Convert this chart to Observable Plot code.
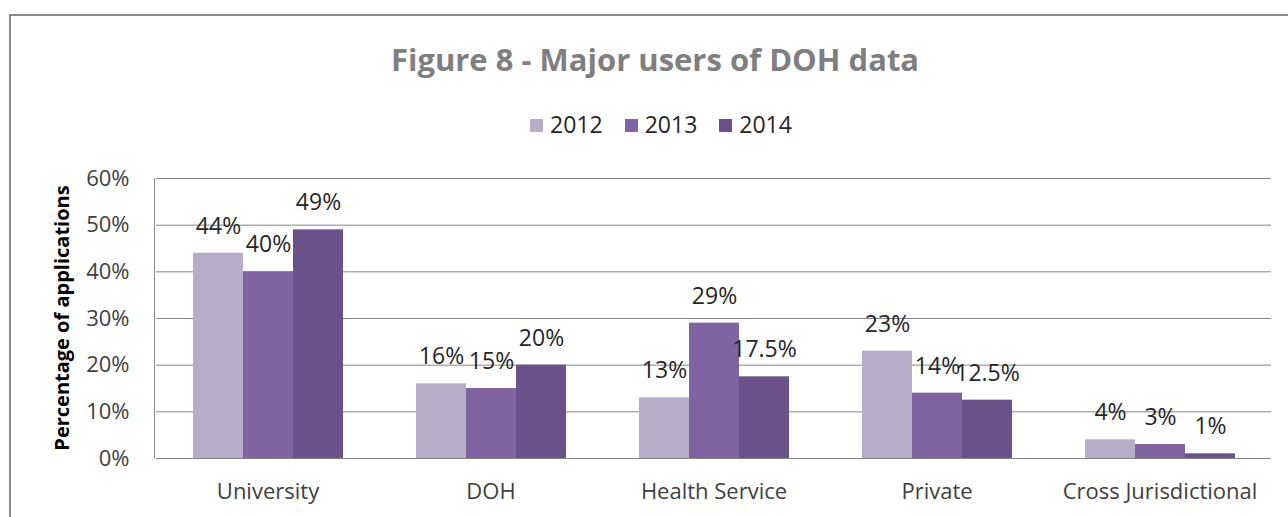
<!DOCTYPE html>
<html>
<head>
<meta charset="utf-8">
<script src="https://cdn.jsdelivr.net/npm/d3@7"></script>
<script src="https://cdn.jsdelivr.net/npm/@observablehq/plot@0.6"></script>
<style>
  html, body { margin: 0; padding: 0; background: #fff; overflow: hidden; }
  #wrap { position: relative; width: 1288px; height: 517px; font-family: "Open Sans", sans-serif; }
  #frame { position: absolute; left: 9px; top: 14px; width: 1400px; height: 600px; border-top: 2px solid #898989; border-left: 2px solid #898989; box-sizing: border-box; }
  #title { position: absolute; left: 11px; width: 1288px; top: 38px; text-align: center; font-size: 31px; font-weight: bold; color: #7f7f7f; line-height: 42px; }
  #legend { position: absolute; left: 17px; width: 1288px; top: 109px; text-align: center; font-size: 23px; color: #262626; line-height: 30px; }
  #legend span.item { display: inline-block; margin: 0 11px; }
  #legend span.sw { display: inline-block; width: 13px; height: 13px; margin-right: 7px; vertical-align: 1px; }
  #chart { position: absolute; left: 0; top: 0; }
</style>
</head>
<body>
<div id="wrap">
  <div id="frame"></div>
  <div id="title">Figure 8 - Major users of DOH data</div>
  <div id="legend"></div>
  <div id="chart"></div>
</div>
<script>
const categories = ["University", "DOH", "Health Service", "Private", "Cross Jurisdictional"];
const years = ["2012", "2013", "2014"];
const v2012 = [44, 16, 13, 23, 4];
const v2013 = [40, 15, 29, 14, 3];
const v2014 = [49, 20, 17.5, 12.5, 1];
const yTicks = [0, 10, 20, 30, 40, 50, 60];
const colors = ["#b8adc9", "#8064a2", "#6a518a"];

const series = [v2012, v2013, v2014];
const data = [];
categories.forEach((c, i) => {
  years.forEach((y, j) => data.push({category: c, year: y, value: series[j][i]}));
});

// legend
const legend = document.getElementById("legend");
years.forEach((y, j) => {
  const it = document.createElement("span");
  it.className = "item";
  it.innerHTML = `<span class="sw" style="background:${colors[j]}"></span>${y}`;
  legend.appendChild(it);
});

const chart = Plot.plot({
  width: 1288,
  height: 517,
  marginTop: 178,
  marginBottom: 59,
  marginLeft: 155,
  marginRight: 17,
  style: {fontFamily: "'Open Sans', sans-serif", fontSize: "22px", color: "#404040", background: "transparent"},
  fx: {domain: categories, padding: 0, label: null, axis: "bottom", tickSize: 0, tickPadding: 25},
  x: {domain: years, paddingInner: 0, paddingOuter: 0.73, axis: null},
  y: {domain: [0, 60], ticks: yTicks, tickFormat: d => d + "%", tickSize: 0, tickPadding: 27, label: null},
  color: {domain: years, range: colors},
  marks: [
    Plot.ruleY(yTicks, {stroke: "#868686", strokeWidth: 1}),
    Plot.barY(data, {fx: "category", x: "year", y: "value", fill: "year", inset: 0}),
    Plot.text(data, {fx: "category", x: "year", y: "value", text: d => d.value + "%", dy: -27, fill: "#262626", fontSize: 23})
  ]
});
document.getElementById("chart").appendChild(chart);

// left axis line drawn with the plot's own y scale
const ys = chart.scale("y");
d3.select(chart).append("line")
  .attr("x1", 154.5).attr("x2", 154.5)
  .attr("y1", ys.apply(0)).attr("y2", ys.apply(60))
  .attr("stroke", "#868686");

// y label
d3.select(chart).append("text")
  .attr("transform", `translate(69,${(ys.apply(0) + ys.apply(60)) / 2}) rotate(-90)`)
  .attr("text-anchor", "middle")
  .attr("font-weight", "bold")
  .attr("font-size", 20)
  .attr("fill", "#000")
  .text("Percentage of applications");
</script>
</body>
</html>
